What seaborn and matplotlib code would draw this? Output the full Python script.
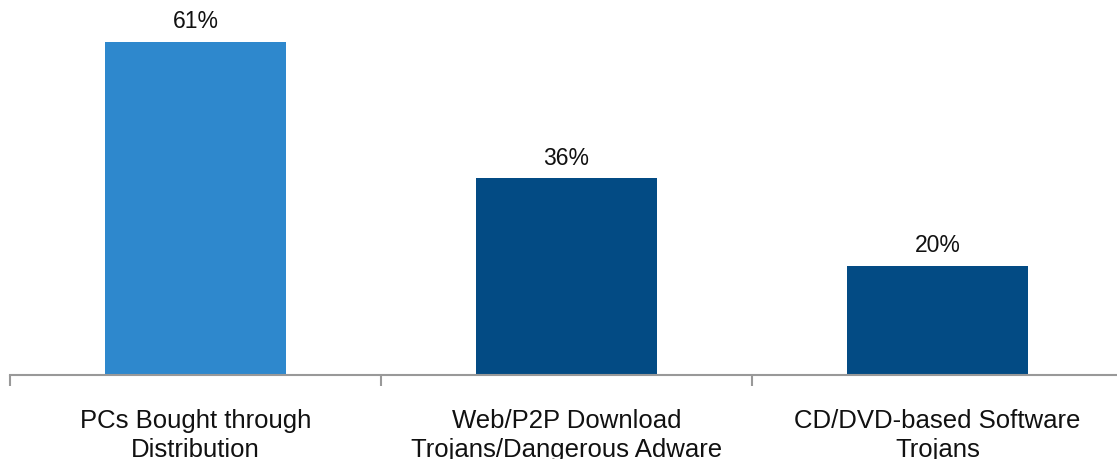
import matplotlib
matplotlib.use("Agg")
import matplotlib.pyplot as plt
import seaborn as sns
import pandas as pd

categories = ["PCs Bought through\nDistribution",
              "Web/P2P Download\nTrojans/Dangerous Adware",
              "CD/DVD-based Software\nTrojans"]
values = [61, 36, 20]
colors = ["#2E88CD", "#034B84", "#034B84"]

df = pd.DataFrame({"source": categories, "share": values})

sns.set_theme(style="white")
plt.rcParams["font.family"] = ["Liberation Sans", "DejaVu Sans"]

fig = plt.figure(figsize=(11.17, 4.60), dpi=100)
ax = fig.add_axes([10 / 1117, 84 / 460, 1113 / 1117, 355 / 460])

sns.barplot(data=df, x="source", y="share", hue="source",
            palette=colors, width=0.49, saturation=1, legend=False,
            linewidth=0, edgecolor="none", ax=ax)

ax.set_ylim(0, 65)
ax.set_xlim(-0.5, 2.5)
for c in ax.containers:
    ax.bar_label(c, labels=[f"{v:.0f}%" for v in c.datavalues],
                 padding=7, fontsize=16.5, color="#111111")

for s in ["top", "right", "left"]:
    ax.spines[s].set_visible(False)
ax.spines["bottom"].set_color("#999999")
ax.spines["bottom"].set_linewidth(1.5)

ax.set_yticks([])
ax.set_xticks([-0.5, 0.5, 1.5, 2.5], minor=False)
ax.set_xticklabels([])
ax.set_xticks([0, 1, 2], minor=True)
ax.set_xticklabels(categories, minor=True, fontsize=18.5, linespacing=1.22)
ax.tick_params(axis="x", which="major", direction="out", length=8,
               width=1.5, color="#999999", bottom=True)
ax.tick_params(axis="x", which="minor", length=0, pad=24, colors="#111111")
ax.set_xlabel("")
ax.set_ylabel("")

fig.savefig("out.png", dpi=100)
